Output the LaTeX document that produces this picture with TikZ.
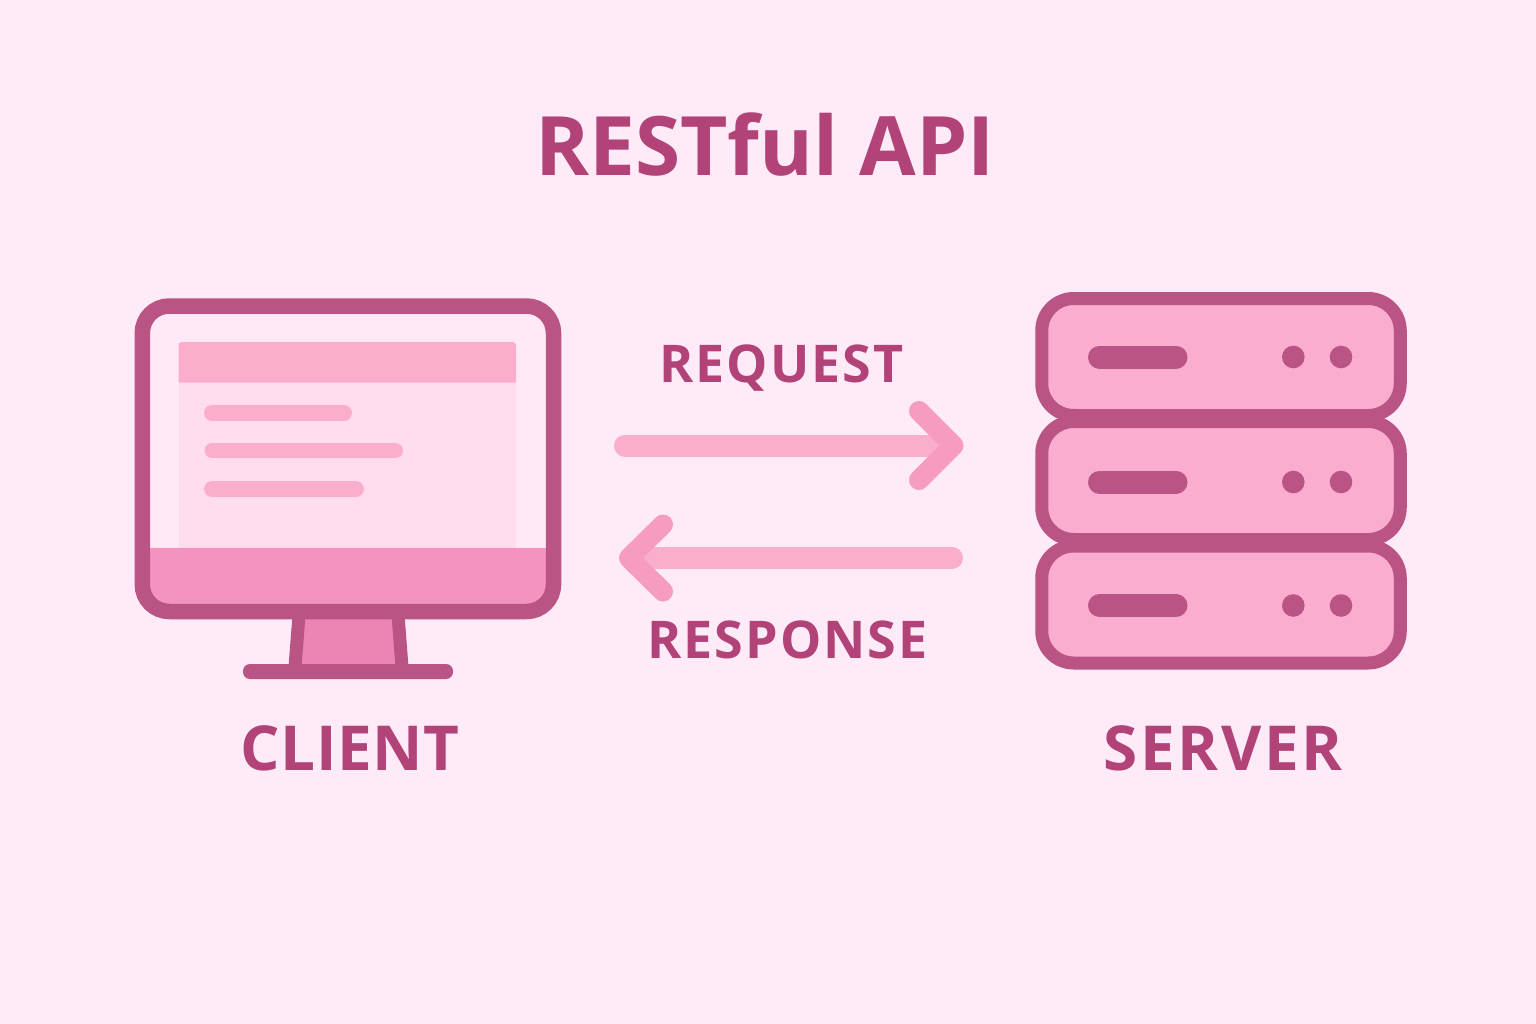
\documentclass[tikz,border=0pt]{standalone}
\usepackage{fontspec}
\setmainfont{Open Sans}
\definecolor{bgpink}{HTML}{FEEBF7}
\definecolor{framepink}{HTML}{BA5484}
\definecolor{textpink}{HTML}{B24378}
\definecolor{screenpink}{HTML}{FFE9F6}
\definecolor{panelpink}{HTML}{FFDDEE}
\definecolor{barpink}{HTML}{FBAECC}
\definecolor{basepink}{HTML}{F493BE}
\definecolor{standpink}{HTML}{EC84B4}
\definecolor{rackpink}{HTML}{FAADCF}
\definecolor{headpink}{HTML}{F69CC1}
\tikzset{
  rackbox/.style={draw=framepink, fill=rackpink, line width=13pt, rounded corners=32pt,
    minimum width=358.5pt, inner sep=0pt, outer sep=0pt},
  shaft/.style={draw=barpink, line width=22pt, line cap=round, shorten >=14pt},
  tiphead/.style={draw=headpink, line width=20pt, line cap=round, line join=round},
  pill/.style={line cap=round, line width=#1},
  bigtext/.style 2 args={text=textpink, font=\bfseries\fontsize{#1}{#1}\selectfont\addfontfeature{LetterSpace=#2},
    anchor=base, inner sep=0pt}
}
\begin{document}
\begin{tikzpicture}[x=1pt, y=-1pt]
  \useasboundingbox (0,0) rectangle (1536,1024);
  \fill[bgpink] (0,0) rectangle (1536,1024);

  \node[bigtext={82}{0}] (title) at (765,176) {RESTful API};

  % monitor
  \fill[screenpink, rounded corners=27] (142.3,306) rectangle (553.5,611.5);
  \fill[panelpink] (178.5,382.5) rectangle (516,548);
  \fill[barpink] (178.5,382.5) [rounded corners=3] -- (178.5,342) -- (516,342) [sharp corners] -- (516,382.5) -- cycle;
  \draw[barpink, pill=16pt] (212,413) -- (344,413);
  \draw[barpink, pill=15pt] (212,450.5) -- (395.5,450.5);
  \draw[barpink, pill=16pt] (212,489) -- (356,489);
  \begin{scope}
    \clip[rounded corners=27] (142.3,306) rectangle (553.5,611.5);
    \fill[basepink] (142.3,547.7) rectangle (553.5,611.5);
  \end{scope}
  \fill[standpink] (298,612) -- (398,612) -- (403,667) -- (294,667) -- cycle;
  \draw[framepink, line width=13pt] (299,615) -- (295,667);
  \draw[framepink, line width=13pt] (398,615) -- (402,667);
  \draw[framepink, line width=15.5pt, rounded corners=27] (142.3,306) rectangle (553.5,611.5);
  \fill[framepink, rounded corners=7] (243,664) rectangle (453,679);
  \node[bigtext={62}{1}] (client) at (350,770) {CLIENT};

  % server
  \node[rackbox, minimum height=118pt] (rackb) at (1221,480.5) {};
  \node[rackbox, minimum height=117pt] (racka) at (1221,357) {};
  \node[rackbox, minimum height=117pt] (rackc) at (1221,604.5) {};
  \foreach \y in {357,482,605.5} {
    \draw[framepink, pill=23pt] (1099.5,\y) -- (1176,\y);
    \fill[framepink] (1293.3,\y) circle (11.3) (1341,\y) circle (11.3);
  }
  \node[bigtext={62}{4.5}] (server) at (1223,770) {SERVER};

  % arrows
  \coordinate (reqstart) at (625,445.5);
  \coordinate (reqtip) at (953.5,445.5);
  \coordinate (resstart) at (952,558);
  \coordinate (restip) at (629,558);
  \draw[shaft] (reqstart) -- (reqtip);
  \draw[tiphead] ([shift={(-34.5,-34.5)}]reqtip) -- (reqtip) -- ([shift={(-34.5,34.5)}]reqtip);
  \draw[shaft] (resstart) -- (restip);
  \draw[tiphead] ([shift={(34,-33.5)}]restip) -- (restip) -- ([shift={(34,33.5)}]restip);
  \node[bigtext={52}{3.7}] (request) at (781.5,382.7) {REQUEST};
  \node[bigtext={52}{3.7}] (response) at (787.5,658) {RESPONSE};
\end{tikzpicture}
\end{document}
